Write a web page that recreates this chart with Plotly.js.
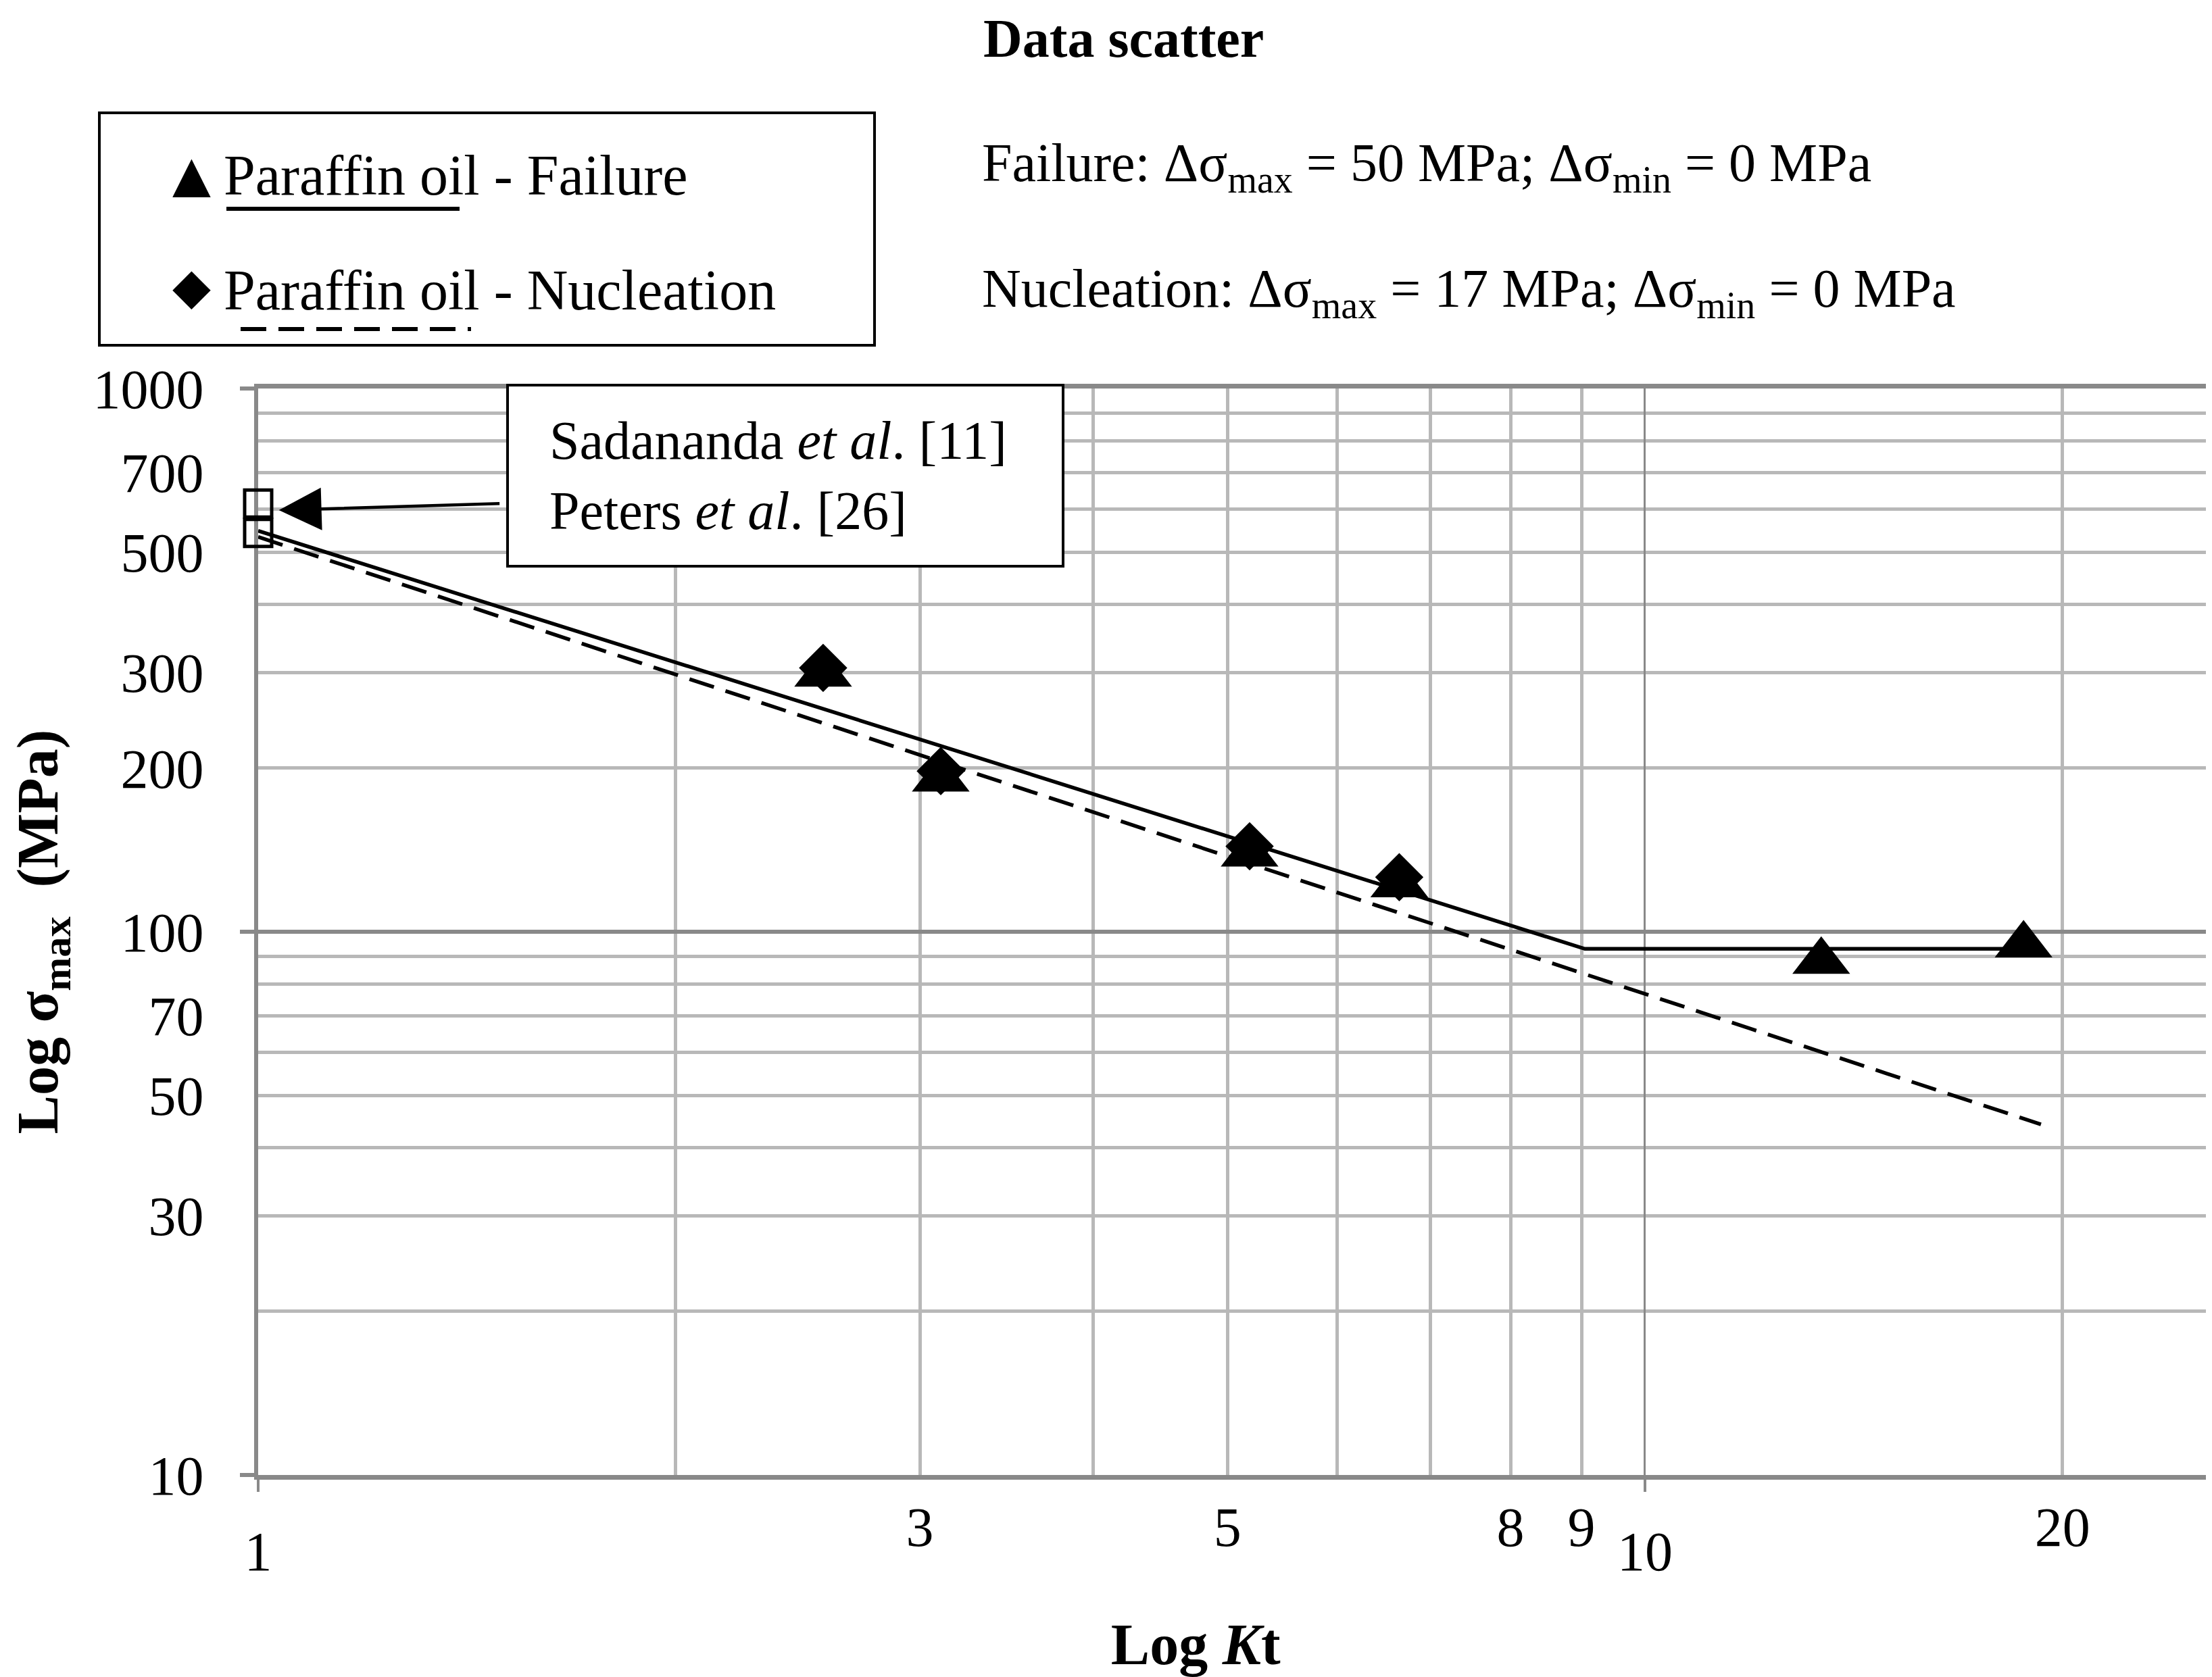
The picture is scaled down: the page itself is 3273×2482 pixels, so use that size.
<!DOCTYPE html>
<html><head><meta charset="utf-8">
<script src="https://cdn.plot.ly/plotly-3.0.1.min.js"></script>
<style>html,body{margin:0;padding:0;background:#fff}#chart{width:3273px;height:2482px}</style>
</head><body><div id="chart"></div>
<script>
// ---- data ----
const failKt = [2.555, 3.106, 5.187, 6.65, 13.4, 18.75];
const failSigma = [298, 191, 139, 122, 88.2, 94.6];
const nucKt = [2.555, 3.106, 5.187, 6.65];
const nucSigma = [306, 197.5, 143.7, 126];
const failFitKt = [1, 9.05, 18.75];
const failFitSigma = [547, 93, 93];
const nucFitKt = [1, 19.3];
const nucFitSigma = [533, 44.2];
const litKt = [1, 1];
const litSigma = [614, 542];

const xTickVals = [3, 5, 8, 9, 20];
const xTickText = ['3', '5', '8', '9', '20'];
const xTickVals2 = [1, 10];
const xTickText2 = ['1', '10'];
const xMinorVals = [2, 4, 6, 7];
const yTickVals = [10, 30, 50, 70, 100, 200, 300, 500, 700, 1000];
const yTickText = ['10', '30', '50', '70', '100', '200', '300', '500', '700', '1000'];
const yMinorVals = [20, 40, 60, 80, 90, 400, 600, 800, 900];
const yMajorVals = [10, 100, 1000];

const FONT = 'Liberation Serif, Times New Roman, serif';
const LIGHT = '#b8b8b8';
const DARK = '#898989';
const xRange = [0, 1.4045];
const yRange = [1, 3];

// paper-coordinate helpers for the plot frame (plot area 382..3264 x 575..2183)
const L = 382, R = 3264, T = 575, B = 2183;
const px = v => (v - L) / (R - L);
const py = v => (B - v) / (B - T);

const traces = [
  {x: failFitKt, y: failFitSigma, mode: 'lines', type: 'scatter', name: 'Failure fit',
   line: {color: '#000', width: 5.5}, cliponaxis: false, showlegend: false},
  {x: nucFitKt, y: nucFitSigma, mode: 'lines', type: 'scatter', name: 'Nucleation fit',
   line: {color: '#000', width: 5.5, dash: '38px,18px'}, cliponaxis: false, showlegend: false},
  {x: failKt, y: failSigma, mode: 'markers', type: 'scatter', name: 'Paraffin oil - Failure',
   marker: {symbol: 'triangle-up', size: 74, color: '#000'}, cliponaxis: false, showlegend: false},
  {x: nucKt, y: nucSigma, mode: 'markers', type: 'scatter', name: 'Paraffin oil - Nucleation',
   marker: {symbol: 'diamond', size: 55, color: '#000'}, cliponaxis: false, showlegend: false},
  {x: litKt, y: litSigma, xaxis: 'x2', yaxis: 'y2', mode: 'markers', type: 'scatter', name: 'Sadananda / Peters',
   marker: {symbol: 'square-open', size: 40, color: '#000', line: {width: 5, color: '#000'}},
   cliponaxis: false, showlegend: false}
];

const layout = {
  width: 3273, height: 2482,
  margin: {l: L, r: 3273 - R, t: T, b: 2482 - B, pad: 0},
  paper_bgcolor: '#fff', plot_bgcolor: '#fff',
  font: {family: FONT, size: 82, color: '#000'},
  showlegend: false,
  xaxis: {
    type: 'log', range: xRange, tickmode: 'array', tickvals: xTickVals, ticktext: xTickText,
    showgrid: true, gridcolor: LIGHT, gridwidth: 5,
    minor: {tickmode: 'array', tickvals: xMinorVals, showgrid: true, gridcolor: LIGHT, gridwidth: 5, ticks: ''},
    ticks: '', ticklabelstandoff: 0, zeroline: false,
    showline: true, linecolor: DARK, linewidth: 7, mirror: true, layer: 'below traces',
    tickfont: {family: FONT, size: 82},
    title: {text: '<b>Log <i>K</i>t\u00A0\u00A0\u00A0\u00A0\u00A0</b>', font: {family: FONT, size: 86}, standoff: 142}
  },
  xaxis2: {
    type: 'log', range: xRange, overlaying: 'x', side: 'bottom', tickmode: 'array',
    tickvals: xTickVals2, ticktext: xTickText2,
    showgrid: true, gridcolor: DARK, gridwidth: 3,
    ticks: 'outside', ticklen: 24, tickwidth: 4, tickcolor: DARK,
    ticklabelstandoff: 18, showline: false, zeroline: false, layer: 'below traces',
    tickfont: {family: FONT, size: 82}
  },
  yaxis: {
    type: 'log', range: yRange, tickmode: 'array', tickvals: yTickVals, ticktext: yTickText,
    showgrid: true, gridcolor: LIGHT, gridwidth: 5,
    minor: {tickmode: 'array', tickvals: yMinorVals, showgrid: true, gridcolor: LIGHT, gridwidth: 5, ticks: ''},
    ticks: '', ticklabelstandoff: 58, zeroline: false,
    showline: true, linecolor: DARK, linewidth: 6, layer: 'below traces',
    tickfont: {family: FONT, size: 82},
    title: {text: '<b>Log σ<sub>max</sub>\u00A0\u00A0(MPa)</b>', font: {family: FONT, size: 86}, standoff: 25}
  },
  yaxis2: {
    type: 'log', range: yRange, overlaying: 'y', side: 'left', tickmode: 'array', tickvals: yMajorVals,
    showticklabels: false, showgrid: true, gridcolor: DARK, gridwidth: 6,
    ticks: 'outside', ticklen: 26, tickwidth: 6, tickcolor: DARK,
    showline: false, zeroline: false, layer: 'below traces'
  },
  shapes: [
    // legend frame
    {type: 'rect', xref: 'paper', yref: 'paper', x0: px(147), x1: px(1294), y0: py(511), y1: py(167),
     line: {color: '#000', width: 4}, fillcolor: 'rgba(0,0,0,0)'},
    // legend line samples
    {type: 'line', xref: 'paper', yref: 'paper', x0: px(335), x1: px(680), y0: py(309), y1: py(309),
     line: {color: '#000', width: 6}},
    {type: 'line', xref: 'paper', yref: 'paper', x0: px(356), x1: px(697), y0: py(487), y1: py(487),
     line: {color: '#000', width: 6, dash: '38px,18px'}},
    // literature callout box
    {type: 'rect', xref: 'paper', yref: 'paper', x0: px(751), x1: px(1573), y0: py(838), y1: py(570),
     line: {color: '#000', width: 4}, fillcolor: '#fff', layer: 'above'}
  ],
  annotations: [
    {xref: 'paper', yref: 'paper', x: px(1453), y: py(57), xanchor: 'left', yanchor: 'middle',
     text: '<b>Data scatter</b>', showarrow: false, font: {family: FONT, size: 80}},
    {xref: 'paper', yref: 'paper', x: px(1451), y: py(247), xanchor: 'left', yanchor: 'middle',
     text: 'Failure: Δσ<sub>max</sub> = 50 MPa; Δσ<sub>min</sub> = 0 MPa', showarrow: false, font: {family: FONT, size: 80}},
    {xref: 'paper', yref: 'paper', x: px(1451), y: py(433), xanchor: 'left', yanchor: 'middle',
     text: 'Nucleation: Δσ<sub>max</sub> = 17 MPa; Δσ<sub>min</sub> = 0 MPa', showarrow: false, font: {family: FONT, size: 80}},
    // custom legend
    {xref: 'paper', yref: 'paper', x: px(283), y: py(257), xanchor: 'center', yanchor: 'middle',
     text: '▲', showarrow: false, font: {family: 'DejaVu Sans', size: 74}},
    {xref: 'paper', yref: 'paper', x: px(329), y: py(259), xanchor: 'left', yanchor: 'middle',
     text: 'Paraffin oil - Failure', showarrow: false, font: {family: FONT, size: 84}},
    {xref: 'paper', yref: 'paper', x: px(283), y: py(423), xanchor: 'center', yanchor: 'middle',
     text: '◆', showarrow: false, font: {family: 'DejaVu Sans', size: 74}},
    {xref: 'paper', yref: 'paper', x: px(329), y: py(430), xanchor: 'left', yanchor: 'middle',
     text: 'Paraffin oil - Nucleation', showarrow: false, font: {family: FONT, size: 84}},
    // callout text
    {xref: 'paper', yref: 'paper', x: px(811), y: py(704), xanchor: 'left', yanchor: 'middle', align: 'left',
     text: 'Sadananda <i>et al</i>. [11]<br>Peters <i>et al</i>. [26]', showarrow: false,
     font: {family: FONT, size: 80}},
    // callout arrow
    {xref: 'x', yref: 'y', x: Math.log10(1.035), y: Math.log10(597), text: '', showarrow: true,
     ax: 328, ay: -10, arrowhead: 2, arrowsize: 2.8, arrowwidth: 4.5, arrowcolor: '#000', standoff: 0}
  ]
};

Plotly.newPlot('chart', traces, layout, {displayModeBar: false, staticPlot: true});
</script>
</body></html>
